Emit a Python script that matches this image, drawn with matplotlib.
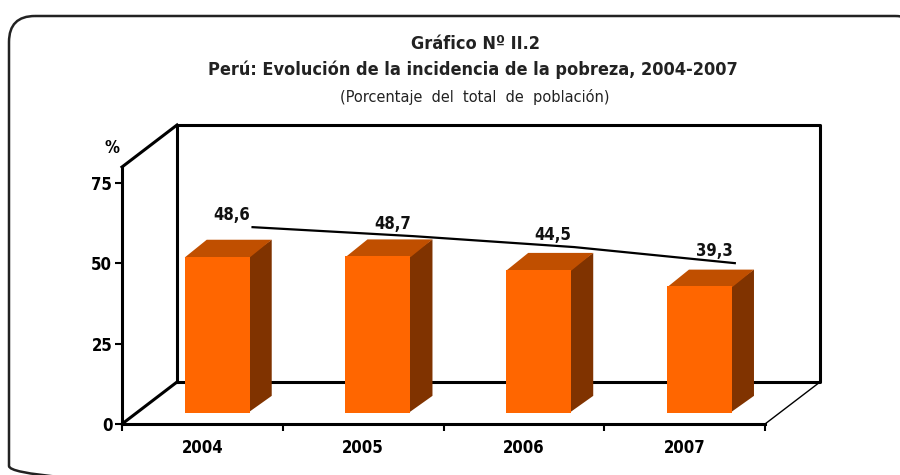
import matplotlib
matplotlib.use("Agg")
import matplotlib.pyplot as plt
from matplotlib.patches import Polygon, FancyBboxPatch

# datos
anios = ["2004", "2005", "2006", "2007"]
pobreza = [48.6, 48.7, 44.5, 39.3]
# posicion de la linea tal como se ve en el grafico (plano del fondo)
linea = [48.2, 45.4, 42.0, 37.0]
etiquetas = ["48,6", "48,7", "44,5", "39,3"]
yticks = [0, 25, 50, 75]

plt.rcParams["font.family"] = ["DejaVu Sans"]
plt.rcParams["font.stretch"] = "condensed"

W, H = 900, 475
fig = plt.figure(figsize=(9, 4.75), dpi=100)

# marco redondeado
bg = fig.add_axes([0, 0, 1, 1])
bg.set_xlim(0, W)
bg.set_ylim(H, 0)
bg.axis("off")
bg.add_patch(FancyBboxPatch((9, 16), 912, 476, boxstyle="round,pad=0,rounding_size=26",
                            fill=False, ec="#222222", lw=1.8, clip_on=False))

fig.text(0.528, 1 - 44 / H, "Gráfico Nº II.2", ha="center", va="center",
         fontsize=13, fontweight="bold", color="#222222")
fig.text(0.525, 1 - 70 / H, "Perú: Evolución de la incidencia de la pobreza, 2004-2007",
         ha="center", va="center", fontsize=13, fontweight="bold", color="#222222")
fig.text(0.528, 1 - 97 / H, "(Porcentaje  del  total  de  población)", ha="center", va="center",
         fontsize=11.7, color="#222222")

# ejes frontales
x0, x1, yb, yt = 122, 765, 424, 167
ax = fig.add_axes([x0 / W, 1 - yb / H, (x1 - x0) / W, (yb - yt) / H])
ax.set_xlim(-0.5, 3.5)
ax.set_ylim(0, 80)
ax.patch.set_alpha(0)

pxx = (x1 - x0) / 4.0
pxy = (yb - yt) / 80.0
DX = 55 / pxx
DY = 42 / pxy

# paredes
k = dict(color="black", lw=2.2, clip_on=False, solid_capstyle="projecting", zorder=1)
ax.plot([-0.5 + DX, 3.5 + DX, 3.5 + DX, -0.5 + DX, -0.5 + DX],
        [DY, DY, 80 + DY, 80 + DY, DY], **k)
ax.plot([-0.5, -0.5 + DX], [80, 80 + DY], **k)
ax.plot([-0.5, -0.5 + DX], [0, DY], **k)
ax.plot([3.5, 3.5 + DX], [0, DY], color="black", lw=1, clip_on=False, zorder=1)

# barras 3D
f0 = 0.27
d = 0.4
w = 65 / pxx
xs = [i + f0 * DX for i in range(len(anios))]
b0 = f0 * DY
for xc, v in zip(xs, pobreza):
    xl, xr = xc - w / 2, xc + w / 2
    top = b0 + v
    ax.add_patch(Polygon([(xr - 0.01, b0), (xr + d * DX, b0 + d * DY), (xr + d * DX, top + d * DY), (xr - 0.01, top)],
                         closed=True, fc="#803300", ec="none", zorder=2))
    ax.add_patch(Polygon([(xl, top - 0.3), (xr, top - 0.3), (xr + d * DX, top + d * DY), (xl + d * DX, top + d * DY)],
                         closed=True, fc="#C04F00", ec="none", zorder=2))
ax.bar(xs, pobreza, width=w, bottom=b0, color="#FF6600", lw=0, zorder=3)

# linea y etiquetas
lx = [i + DX - 0.03 for i in range(len(anios))]
ly = [v + DY for v in linea]
ax.plot(lx, ly, color="black", lw=1.6, clip_on=False, zorder=4)
for x, y, t in zip(lx, ly, etiquetas):
    ax.annotate(t, (x, y), xytext=(-15, 9), textcoords="offset points", ha="center", va="center",
                fontsize=12, fontweight="bold", color="#111111")

# ejes
for s in ["top", "right"]:
    ax.spines[s].set_visible(False)
for s in ["left", "bottom"]:
    ax.spines[s].set_linewidth(2.2)
    ax.spines[s].set_zorder(5)
ax.set_yticks(yticks)
ax.set_yticklabels([str(v) for v in yticks], fontsize=12, fontweight="bold")
ax.set_xticks([-0.5, 0.5, 1.5, 2.5, 3.5])
ax.set_xticklabels([])
ax.set_xticks(range(len(anios)), minor=True)
ax.set_xticklabels(anios, minor=True, fontsize=12, fontweight="bold")
ax.tick_params(axis="y", direction="out", length=5, width=1.5, pad=2)
ax.tick_params(axis="x", which="major", direction="out", length=5, width=1.5)
ax.tick_params(axis="x", which="minor", length=0, pad=11)
ax.text(-0.5 - 10 / pxx, 85.9, "%", ha="center", va="center", fontsize=12, fontweight="bold")

fig.savefig("out.png", dpi=100)
